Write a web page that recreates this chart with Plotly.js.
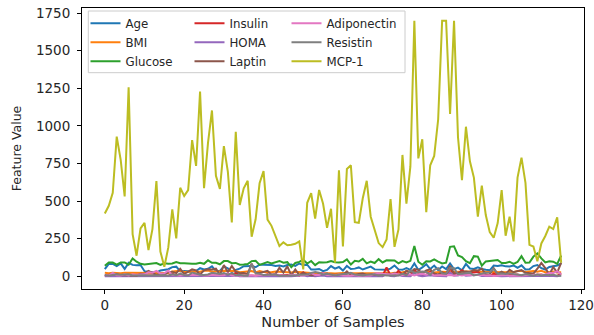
<!DOCTYPE html>
<html>
<head>
<meta charset="utf-8">
<script src="https://cdn.plot.ly/plotly-3.0.1.min.js"></script>
<style>html,body{margin:0;padding:0;background:#fff;}#chart{width:594px;height:335px;}</style>
</head>
<body>
<div id="chart"></div>
<script>
// Breast Cancer Coimbra features, one value per sample (116 samples)
const age = [48,83,82,68,86,49,89,76,73,75,34,29,25,24,38,44,47,61,64,32,36,34,29,35,54,45,50,66,35,36,66,53,28,43,51,67,66,69,60,77,76,76,75,69,71,66,75,78,69,85,76,77,
45,45,49,34,42,68,51,62,38,69,49,51,59,45,54,64,46,44,45,44,51,72,46,43,55,43,86,41,59,81,48,71,42,65,48,85,48,58,40,82,52,49,60,49,44,40,71,69,74,66,65,72,57,73,45,46,68,75,54,45,62,65,72,86];
const bmi = [23.5,20.69,23.12,21.37,21.11,22.85,22.7,23.8,22,23,21.47,23.01,22.86,18.67,23.34,20.76,22.03,32.04,34.53,36.51,28.58,31.98,32.27,30.28,30.48,37.04,38.58,31.45,35.25,34.17,36.21,36.79,35.86,34.42,27.69,29.61,31.24,35.09,26.35,35.59,29.22,27.2,27.3,32.5,30.3,27.7,25.7,25.3,29.4,26.6,27.1,25.9,
21.3,20.83,20.96,24.24,21.36,21.08,19.13,22.66,22.5,21.51,21.37,22.89,22.83,23.14,24.22,22.22,20.83,19.56,20.26,24.74,18.37,23.62,22.21,26.56,31.98,31.25,26.67,26.67,28.67,31.64,32.46,25.51,29.3,29.67,28.13,27.69,31.25,29.15,30.84,31.22,30.8,32.46,31.23,29.78,27.89,27.64,27.92,28.44,28.65,26.56,30.92,29.14,34.84,37.11,29.38,33.18,35.56,30.48,36.05,26.85,26.84,32.05,25.59,27.18];
const glucose = [70,92,91,77,92,92,77,118,97,83,78,82,82,88,75,86,84,85,95,87,86,87,84,84,90,83,106,90,90,80,101,101,87,89,77,79,82,101,103,76,83,94,85,93,102,90,94,60,89,96,110,85,
102,74,94,92,93,102,93,92,95,112,78,103,98,116,86,98,88,114,92,106,105,105,86,101,92,103,201,97,77,100,99,112,98,85,90,196,199,139,128,100,87,134,131,70,99,103,104,108,88,89,97,83,95,134,90,92,131,152,119,92,100,97,82,138];
const insulin = [2.707,3.115,4.498,3.226,3.549,3.226,4.69,6.47,3.35,4.952,3.469,5.663,4.09,6.107,5.782,7.553,2.869,18.077,4.427,14.026,4.345,4.53,5.81,4.376,5.537,6.76,6.703,9.245,6.817,6.59,15.533,10.175,8.576,23.194,3.855,5.819,4.181,5.646,5.138,3.881,5.376,14.07,5.197,5.43,8.34,6.042,8.079,3.508,10.704,4.462,26.211,4.58,
13.852,4.56,12.305,21.699,2.999,6.2,4.364,3.482,5.261,6.683,2.64,2.74,6.862,4.902,3.73,5.7,3.42,15.89,3.44,58.46,6.03,4.42,36.94,10.555,16.635,4.328,41.611,22.033,3.188,9.669,28.677,10.395,4.172,14.649,2.54,51.814,12.162,16.582,41.894,18.077,30.212,24.887,30.13,8.396,9.208,2.432,18.2,8.808,3.012,6.524,10.491,10.949,12.548,5.636,4.713,5.75,8.15,7.01,11.91,3.33,4.53,5.73,2.82,19.91];
const homa = [0.467,0.707,1.01,0.613,0.805,0.732,0.891,1.883,0.802,1.014,0.667,1.145,0.827,1.33,1.07,1.6,0.59,3.79,1.037,3.01,0.922,0.972,1.204,0.907,1.229,1.384,1.753,2.052,1.513,1.3,3.87,2.535,1.84,5.092,0.732,1.134,0.846,1.407,1.305,0.728,1.101,3.262,1.09,1.246,2.098,1.341,1.873,0.519,2.35,1.057,7.112,0.96,
3.485,0.832,2.853,4.924,0.688,1.56,1.001,0.79,1.233,1.846,0.508,0.696,1.659,1.402,0.791,1.378,0.742,4.469,0.781,15.285,1.562,1.145,7.836,2.63,3.775,1.1,20.631,5.272,0.606,2.385,7.003,2.872,1.009,3.071,0.564,25.05,5.97,5.685,13.227,4.459,6.483,8.216,9.736,1.45,2.249,0.618,4.669,2.346,0.654,1.432,2.51,2.242,2.94,1.863,1.046,1.305,2.634,2.628,3.496,0.756,1.117,1.371,0.57,6.777];
const leptin = [8.807,8.844,17.939,9.883,6.699,6.832,6.964,4.311,4.47,17.127,14.57,35.59,20.45,8.88,15.26,14.09,26.65,30.773,21.212,49.373,15.125,28.75,45.62,39.213,12.331,39.98,46.64,45.962,50.609,10.281,74.707,27.184,68.51,31.213,20.092,21.903,16.225,83.482,24.3,21.786,28.562,35.891,10.39,15.145,56.502,24.846,65.926,6.633,45.272,7.85,21.778,13.74,
7.648,7.753,11.241,16.735,19.083,9.699,11.082,9.865,8.438,32.58,6.334,8.016,14.904,17.997,8.687,12.191,12.87,13.08,7.65,18.16,9.62,21.78,10.16,9.8,37.223,25.782,47.647,44.706,17.022,38.807,46.076,19.065,12.262,26.517,15.533,70.882,18.131,22.888,31.039,31.645,29.274,42.391,37.843,51.339,12.676,14.322,53.5,14.749,31.123,14.908,44.022,26.808,33.161,41.406,23.848,18.69,17.87,50.53,89.27,54.68,12.45,61.48,24.96,90.28];
const adiponectin = [9.702,5.429,22.432,7.17,4.819,13.68,5.59,13.251,10.359,11.579,13.11,26.72,23.67,36.06,17.95,20.32,38.04,7.78,5.463,5.1,8.6,7.643,6.21,9.048,9.731,4.617,4.668,10.355,6.967,5.066,7.54,20.03,4.794,8.301,3.192,2.194,4.267,6.797,2.194,8.126,7.37,9.347,9.001,11.788,8.13,7.652,3.741,10.567,8.286,7.932,4.936,9.753,
21.057,8.237,8.412,21.824,8.463,8.575,5.808,11.236,4.772,4.138,3.886,9.35,4.23,4.295,3.705,4.784,18.55,20.37,16.67,16.1,12.76,17.86,9.76,6.42,11.018,12.719,5.357,13.495,16.44,10.637,21.57,5.486,6.696,7.283,10.222,7.902,4.104,10.263,6.161,9.924,6.269,10.794,8.404,10.732,5.478,6.784,1.656,5.288,7.652,8.43,3.71,2.785,2.365,3.336,6.644,9.16,11.9,10.06,8.01,12.1,21.42,22.54,33.75,14.11];
const resistin = [7.996,4.064,9.277,12.766,10.576,10.318,12.936,5.104,6.284,7.091,6.92,4.58,5.14,6.85,9.35,7.64,3.32,13.684,6.702,17.102,9.154,5.626,24.603,16.437,10.193,8.704,11.784,23.382,22.037,15.722,22.32,10.263,21.444,6.71,10.375,4.208,3.292,82.1,20.254,17.262,8.044,8.416,7.577,11.788,4.299,6.705,4.497,4.664,4.53,9.614,8.494,11.774,
23.034,28.032,23.118,12.065,17.376,13.742,5.571,10.695,15.736,15.699,22.943,11.555,8.205,5.263,10.345,13.912,13.56,4.62,7.84,5.31,3.21,4.82,5.68,16.1,7.165,38.653,24.37,27.833,31.69,29.558,10.157,42.745,53.672,19.463,16.11,55.215,53.631,13.974,17.555,19.947,24.246,5.768,11.5,20.768,23.033,26.014,49.242,16.485,18.356,14.919,20.469,14.77,9.954,6.892,15.556,8.89,4.19,11.73,5.06,10.96,7.32,10.33,3.27,4.35];
const mcp1 = [417.114,468.786,554.697,928.22,773.92,530.41,1256.083,280.694,136.855,318.302,354.6,174.8,313.73,632.22,165.02,63.61,191.72,444.395,252.449,588.46,534.224,572.783,904.981,733.797,1227.91,586.173,887.16,1102.11,667.928,581.313,864.968,695.754,358.624,960.246,473.859,585.307,634.602,263.499,378.996,618.272,698.789,377.227,335.393,270.142,200.976,225.88,206.802,209.749,215.769,232.006,45.843,488.829,
552.444,382.955,573.63,481.949,321.919,448.799,90.6,703.973,199.055,713.239,737.672,359.232,355.31,518.586,635.049,395.976,301.21,220.66,193.87,244.75,513.66,195.94,312,806.724,483.377,730,1698.44,783.796,910.489,426.175,738.034,799.898,1041.843,1698.44,1698.44,1078.359,1698.44,923.886,638.261,994.316,764.667,656.393,396.021,602.486,407.206,293.123,256.001,353.568,572.401,269.487,396.648,232.018,655.834,788.902,621.273,209.19,198.4,99.45,218.28,268.23,330.16,314.05,392.46,90.09];

const names = ['Age','BMI','Glucose','Insulin','HOMA','Laptin','Adiponectin','Resistin','MCP-1'];
const series = [age,bmi,glucose,insulin,homa,leptin,adiponectin,resistin,mcp1];
const colors = ['#1f77b4','#ff7f0e','#2ca02c','#d62728','#9467bd','#8c564b','#e377c2','#7f7f7f','#bcbd22'];
const legendOf = ['legend','legend','legend','legend2','legend2','legend2','legend3','legend3','legend3'];

const traces = series.map((ys,k)=>({
  type:'scatter', mode:'lines', name:names[k],
  x: ys.map((_,i)=>i), y: ys,
  line:{color:colors[k], width:2},
  legend: legendOf[k], legendgroup: names[k],
  hoverinfo:'skip'
}));

// plot area in pixels: x 82..584, y 8..289
const L=82, R=10, T=8, B=46, W=594, H=335;
const pw=W-L-R, ph=H-T-B;
const px=v=>(v-L)/pw, py=v=>(H-B-v)/ph;

const legFont = {family:'DejaVu Sans', size:11.8, color:'#262626'};
function leg(xpix){
  return {x:px(xpix), y:py(8.8), xanchor:'left', yanchor:'top', bgcolor:'rgba(0,0,0,0)',
          borderwidth:0, font:legFont, tracegroupgap:0, itemwidth:30, orientation:'v'};
}

const axisCommon = {
  showgrid:false, zeroline:false, showline:true, mirror:true, linecolor:'#000', linewidth:1,
  ticks:'outside', ticklen:4, tickwidth:1, tickcolor:'#000',
  tickfont:{family:'DejaVu Sans', size:13.5, color:'#262626'}
};

const layout = {
  width:W, height:H,
  margin:{l:L, r:R, t:T, b:B, pad:0},
  paper_bgcolor:'#fff', plot_bgcolor:'#fff',
  showlegend:true,
  xaxis: Object.assign({}, axisCommon, {
    range:[-5.75,120.75], tick0:0, dtick:20,
    title:{text:'Number of Samples', font:{family:'DejaVu Sans', size:14.5, color:'#262626'}, standoff:4}
  }),
  yaxis: Object.assign({}, axisCommon, {
    range:[-84.4,1783.3], tick0:0, dtick:250, ticklabelstandoff:4,
    title:{text:'Feature Value', font:{family:'DejaVu Sans', size:12.5, color:'#262626'}, standoff:11}
  }),
  legend: leg(85.5), legend2: leg(189.5), legend3: leg(286.5),
  shapes:[{type:'rect', xref:'paper', yref:'paper', x0:px(88.3), x1:px(405), y0:py(72.7), y1:py(11),
           line:{color:'#cccccc', width:1}, fillcolor:'rgba(255,255,255,0.8)', layer:'above'}]
};

Plotly.newPlot('chart', traces, layout, {staticPlot:true, displayModeBar:false});
</script>
</body>
</html>
